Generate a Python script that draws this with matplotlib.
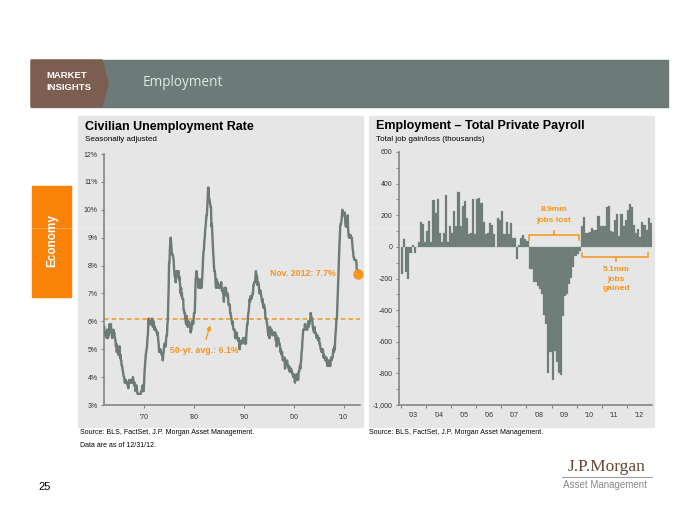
import numpy as np
import matplotlib.pyplot as plt
from matplotlib.patches import Rectangle, Polygon
from matplotlib.lines import Line2D

plt.rcParams['font.family'] = ['Liberation Sans', 'DejaVu Sans']

# civilian unemployment rate (%), monthly, Jan 1962 - Nov 2012
unrate_1960s = [5.8, 5.5, 5.6, 5.6, 5.5, 5.5, 5.4, 5.7, 5.6, 5.4, 5.7, 5.5,
                5.7, 5.9, 5.7, 5.7, 5.9, 5.6, 5.6, 5.4, 5.5, 5.5, 5.7, 5.5,
                5.6, 5.4, 5.4, 5.3, 5.1, 5.2, 4.9, 5.0, 5.1, 5.1, 4.8, 5.0,
                4.9, 5.1, 4.7, 4.8, 4.6, 4.6, 4.4, 4.4, 4.3, 4.2, 4.1, 4.0,
                4.0, 3.8, 3.8, 3.8, 3.9, 3.8, 3.8, 3.8, 3.7, 3.7, 3.6, 3.8,
                3.9, 3.8, 3.8, 3.8, 3.8, 3.9, 3.8, 3.8, 3.8, 4.0, 3.9, 3.8,
                3.7, 3.8, 3.7, 3.5, 3.5, 3.7, 3.7, 3.5, 3.4, 3.4, 3.4, 3.4,
                3.4, 3.4, 3.4, 3.4, 3.4, 3.5, 3.5, 3.5, 3.7, 3.7, 3.5, 3.5]
unrate_1970s = [3.9, 4.2, 4.4, 4.6, 4.8, 4.9, 5.0, 5.1, 5.4, 5.5, 5.9, 6.1,
                5.9, 5.9, 6.0, 5.9, 5.9, 5.9, 6.0, 6.1, 6.0, 5.8, 6.0, 6.0,
                5.8, 5.7, 5.8, 5.7, 5.7, 5.7, 5.6, 5.6, 5.5, 5.6, 5.3, 5.2,
                4.9, 5.0, 4.9, 5.0, 4.9, 4.9, 4.8, 4.8, 4.8, 4.6, 4.8, 4.9,
                5.1, 5.2, 5.1, 5.1, 5.1, 5.4, 5.5, 5.5, 5.9, 6.0, 6.6, 7.2,
                8.1, 8.1, 8.6, 8.8, 9.0, 8.8, 8.6, 8.4, 8.4, 8.4, 8.3, 8.2,
                7.9, 7.7, 7.6, 7.7, 7.4, 7.6, 7.8, 7.8, 7.6, 7.7, 7.8, 7.8,
                7.5, 7.6, 7.4, 7.2, 7.0, 7.2, 6.9, 7.0, 6.8, 6.8, 6.8, 6.4,
                6.4, 6.3, 6.3, 6.1, 6.0, 5.9, 6.2, 5.9, 6.0, 5.8, 5.9, 6.0,
                5.9, 5.9, 5.8, 5.8, 5.6, 5.7, 5.7, 6.0, 5.9, 6.0, 5.9, 6.0]
unrate_1980s = [6.3, 6.3, 6.3, 6.9, 7.5, 7.6, 7.8, 7.7, 7.5, 7.5, 7.5, 7.2,
                7.5, 7.4, 7.4, 7.2, 7.5, 7.5, 7.2, 7.4, 7.6, 7.9, 8.3, 8.5,
                8.6, 8.9, 9.0, 9.3, 9.4, 9.6, 9.8, 9.8, 10.1, 10.4, 10.8, 10.8,
                10.4, 10.4, 10.3, 10.2, 10.1, 10.1, 9.4, 9.5, 9.2, 8.8, 8.5, 8.3,
                8.0, 7.8, 7.8, 7.7, 7.4, 7.2, 7.5, 7.5, 7.3, 7.4, 7.2, 7.3,
                7.3, 7.2, 7.2, 7.3, 7.2, 7.4, 7.4, 7.1, 7.1, 7.1, 7.0, 7.0,
                6.7, 7.2, 7.2, 7.1, 7.2, 7.2, 7.0, 6.9, 7.0, 7.0, 6.9, 6.6,
                6.6, 6.6, 6.6, 6.3, 6.3, 6.2, 6.1, 6.0, 5.9, 6.0, 5.8, 5.7,
                5.7, 5.7, 5.7, 5.4, 5.6, 5.4, 5.4, 5.6, 5.4, 5.4, 5.3, 5.3,
                5.4, 5.2, 5.0, 5.2, 5.2, 5.3, 5.2, 5.2, 5.3, 5.3, 5.4, 5.4]
unrate_1990s = [5.4, 5.3, 5.2, 5.4, 5.4, 5.2, 5.5, 5.7, 5.9, 5.9, 6.2, 6.3,
                6.4, 6.6, 6.8, 6.7, 6.9, 6.9, 6.8, 6.9, 6.9, 7.0, 7.0, 7.3,
                7.3, 7.4, 7.4, 7.4, 7.6, 7.8, 7.7, 7.6, 7.6, 7.3, 7.4, 7.4,
                7.3, 7.1, 7.0, 7.1, 7.1, 7.0, 6.9, 6.8, 6.7, 6.8, 6.6, 6.5,
                6.6, 6.6, 6.5, 6.4, 6.1, 6.1, 6.1, 6.0, 5.9, 5.8, 5.6, 5.5,
                5.6, 5.4, 5.4, 5.8, 5.6, 5.6, 5.7, 5.7, 5.6, 5.5, 5.6, 5.6,
                5.6, 5.5, 5.5, 5.6, 5.6, 5.3, 5.5, 5.1, 5.2, 5.2, 5.4, 5.4,
                5.3, 5.2, 5.2, 5.1, 4.9, 5.0, 4.9, 4.8, 4.9, 4.7, 4.6, 4.7,
                4.6, 4.6, 4.7, 4.3, 4.4, 4.5, 4.5, 4.5, 4.6, 4.5, 4.4, 4.4,
                4.3, 4.4, 4.2, 4.3, 4.2, 4.3, 4.3, 4.2, 4.2, 4.1, 4.1, 4.0]
unrate_2000s = [4.0, 4.1, 4.0, 3.8, 4.0, 4.0, 4.0, 4.1, 3.9, 3.9, 3.9, 3.9,
                4.2, 4.2, 4.3, 4.4, 4.3, 4.5, 4.6, 4.9, 5.0, 5.3, 5.5, 5.7,
                5.7, 5.7, 5.7, 5.9, 5.8, 5.8, 5.8, 5.7, 5.7, 5.7, 5.9, 6.0,
                5.8, 5.9, 5.9, 6.0, 6.1, 6.3, 6.2, 6.1, 6.1, 6.0, 5.8, 5.7,
                5.7, 5.6, 5.8, 5.6, 5.6, 5.6, 5.5, 5.4, 5.4, 5.5, 5.4, 5.4,
                5.3, 5.4, 5.2, 5.2, 5.1, 5.0, 5.0, 4.9, 5.0, 5.0, 5.0, 4.9,
                4.7, 4.8, 4.7, 4.7, 4.6, 4.6, 4.7, 4.7, 4.5, 4.4, 4.5, 4.4,
                4.6, 4.5, 4.4, 4.5, 4.4, 4.6, 4.7, 4.6, 4.7, 4.7, 4.7, 5.0,
                5.0, 4.9, 5.1, 5.0, 5.4, 5.6, 5.8, 6.1, 6.1, 6.5, 6.8, 7.3,
                7.8, 8.3, 8.7, 9.0, 9.4, 9.5, 9.5, 9.6, 9.8, 10.0, 9.9, 9.9]
unrate_2010s = [9.8, 9.8, 9.9, 9.9, 9.6, 9.4, 9.4, 9.5, 9.5, 9.4, 9.8, 9.3,
                9.1, 9.0, 9.0, 9.1, 9.0, 9.1, 9.0, 9.0, 9.0, 8.8, 8.6, 8.5,
                8.3, 8.3, 8.2, 8.2, 8.2, 8.2, 8.2, 8.1, 7.8, 7.8, 7.7]
unrate_avg = 6.1

# total private payroll change (thousands), monthly 2003 - 2012
pay_2003 = [-170, 50, -160, -200, -40, 15, -40, 0, 30, 155, 145, 30]
pay_2004 = [100, 165, 30, 295, 215, 305, 90, 30, 90, 325, 30, 135]
pay_2005 = [90, 230, 135, 345, 135, 260, 290, 185, 80, 90, 300, 80]
pay_2006 = [300, 310, 280, 160, 80, 85, 150, 140, 80, 0, 185, 170]
pay_2007 = [225, 80, 160, 80, 150, 55, 55, -75, 15, 55, 75, 50]
pay_2008 = [40, -140, -140, -220, -220, -245, -265, -300, -430, -490, -800, -665]
pay_2009 = [-840, -660, -730, -800, -810, -435, -310, -300, -235, -195, -125, -55]
pay_2010 = [-45, -25, 130, 190, 85, 90, 95, 120, 105, 105, 195, 130]
pay_2011 = [130, 130, 250, 260, 100, 95, 170, 205, 70, 210, 130, 170]
pay_2012 = [235, 270, 250, 140, 90, 110, 60, 155, 140, 105, 180, 150]
pay_years = ["'03", "'04", "'05", "'06", "'07", "'08", "'09", "'10", "'11", "'12"]

ORANGE = '#f7941d'
LINE = '#6d7b77'
PANEL = '#e6e6e6'
AXC = '#858585'

unrate = np.array(unrate_1960s + unrate_1970s + unrate_1980s + unrate_1990s
                  + unrate_2000s + unrate_2010s)
months = 1962 + np.arange(len(unrate)) / 12.0
payroll = np.array(pay_2003 + pay_2004 + pay_2005 + pay_2006 + pay_2007
                   + pay_2008 + pay_2009 + pay_2010 + pay_2011 + pay_2012)

W, H = 700, 525


def px(x, y):
    return x / W, 1 - y / H


def box(x0, y0, x1, y1, **kw):
    return Rectangle(px(x0, y1), (x1 - x0) / W, (y1 - y0) / H,
                     transform=fig.transFigure, **kw)


fig = plt.figure(figsize=(7, 5.25), dpi=100)
fig.patch.set_facecolor('white')

# header band
fig.patches.append(box(31, 60, 668, 107, color='#6c7a78', zorder=-3))
fig.patches.append(Polygon([px(31, 60), px(102, 60), px(108, 83.5), px(102, 107), px(31, 107)],
                           closed=True, transform=fig.transFigure, color='#7b5e50', zorder=-2))
fig.text(*px(46, 76), 'MARKET', color='white', fontsize=6.8, fontweight='bold', va='center')
fig.text(*px(46, 88), 'INSIGHTS', color='white', fontsize=6.8, fontweight='bold', va='center')
fig.text(*px(143, 82), 'Employment', color='#e4e7e6', fontsize=9.8, va='center',
         family=['Open Sans', 'DejaVu Sans'])

# side tab
fig.patches.append(box(32, 186, 71, 297, color='#fb8307', zorder=-3))
fig.text(*px(52, 241), 'Economy', color='white', fontsize=8.5, fontweight='bold',
         rotation=90, ha='center', va='center')

# panels
fig.patches.append(box(78, 116, 363, 427, color=PANEL, zorder=-3))
fig.patches.append(box(369, 116, 654, 427, color=PANEL, zorder=-3))
fig.add_artist(Line2D([31 / W, 668 / W], [1 - 228 / H] * 2, color='white', alpha=0.35, lw=0.6,
                      zorder=-1))

fig.text(*px(85, 127), 'Civilian Unemployment Rate', fontsize=9, fontweight='bold', va='center')
fig.text(*px(85, 139.5), 'Seasonally adjusted', fontsize=5.8, va='center')
fig.text(*px(376, 126), 'Employment \u2013 Total Private Payroll', fontsize=9, fontweight='bold', va='center')
fig.text(*px(376, 139.5), 'Total job gain/loss (thousands)', fontsize=5.8, va='center')

fig.text(*px(80, 433), 'Source: BLS, FactSet, J.P. Morgan Asset Management.', fontsize=5, va='center')
fig.text(*px(80, 445.5), 'Data are as of 12/31/12.', fontsize=5, va='center')
fig.text(*px(369, 433), 'Source: BLS, FactSet, J.P. Morgan Asset Management.', fontsize=5, va='center')

fig.text(*px(38, 487), '25', fontsize=8, va='center')
fig.text(*px(607, 467), 'J.P.Morgan', fontsize=12.5, color='#6b4433', ha='center', va='center',
         family=['Liberation Serif', 'DejaVu Serif'])
fig.add_artist(Line2D([562 / W, 652 / W], [1 - 476.5 / H] * 2, color='#a0a0a0', lw=0.8))
fig.text(*px(605, 484.5), 'Asset Management', fontsize=7, color='#8a8a8a', ha='center', va='center')


def style(ax):
    ax.set_facecolor('none')
    for s in ['top', 'right']:
        ax.spines[s].set_visible(False)
    for s in ['left', 'bottom']:
        ax.spines[s].set_color(AXC)
        ax.spines[s].set_linewidth(1.2)
    ax.tick_params(which='both', colors=AXC, labelcolor='#333333', labelsize=5,
                   length=2.5, width=0.8, pad=2)


# left chart: unemployment rate
ax1 = fig.add_axes([104 / W, 1 - 405 / H, 256 / W, 251 / H])
style(ax1)
ax1.plot(months, unrate, color=LINE, lw=1.7, zorder=3)
ax1.axhline(unrate_avg, color=ORANGE, lw=1.1, ls=(0, (3, 2)), zorder=2)
ax1.plot(months[-1], unrate[-1], 'o', color=ORANGE, ms=6.5, zorder=4, clip_on=False)
ax1.set_xlim(1961.95, 2013.3)
ax1.set_ylim(3, 12)
ax1.set_yticks(np.arange(3, 13))
ax1.set_yticklabels(['%d%%' % v for v in range(3, 13)])
ax1.set_xticks([1970, 1980, 1990, 2000, 2010])
ax1.set_xticklabels(["'70", "'80", "'90", "'00", "'10"])
ax1.tick_params(axis='x', pad=4)
ax1.text(2008.4, unrate[-1], 'Nov. 2012: 7.7%', color=ORANGE, fontsize=6.3,
         fontweight='bold', ha='right', va='center')
ax1.text(1982.0, 4.95, '50-yr. avg.: 6.1%', color=ORANGE, fontsize=6.3,
         fontweight='bold', ha='center', va='center')
ax1.annotate('', xy=(1983.4, 5.95), xytext=(1982.25, 5.25),
             arrowprops=dict(arrowstyle='-|>', color=ORANGE, lw=0.9, mutation_scale=6))

# right chart: private payroll
ax2 = fig.add_axes([399 / W, 1 - 405 / H, 253 / W, 253 / H])
style(ax2)
x = np.arange(len(payroll))
ax2.bar(x, payroll, width=1.0, color=LINE, edgecolor='#7f8b88', linewidth=0.2, zorder=3)
ax2.set_xlim(-1.5, 119.6)
ax2.set_ylim(-1000, 600)
ax2.set_yticks(np.arange(-1000, 601, 200))
ax2.set_yticklabels(['{:,}'.format(v) for v in range(-1000, 601, 200)])
ax2.set_yticks(np.arange(-900, 600, 200), minor=True)
ax2.set_xticks(np.arange(10) * 12 - 0.5)
ax2.set_xticklabels([])
ax2.set_xticks(np.arange(10) * 12 + 5.5, minor=True)
ax2.set_xticklabels(pay_years, minor=True)
ax2.tick_params(axis='x', which='minor', length=0, pad=5)
ax2.tick_params(axis='y', which='minor', length=2, width=0.6)

# brackets
ax2.plot([60.7, 60.7, 84.7, 84.7], [44, 76, 76, 44], color=ORANGE, lw=1.1, clip_on=False, zorder=4)
ax2.plot([72.7, 72.7], [76, 101], color=ORANGE, lw=1.1, zorder=4)
ax2.text(72.7, 234, '8.9mm', color=ORANGE, fontsize=6, fontweight='bold', ha='center', va='center')
ax2.text(72.7, 165, 'jobs lost', color=ORANGE, fontsize=6, fontweight='bold', ha='center', va='center')
ax2.plot([86.1, 86.1, 117.7, 117.7], [-36, -63, -63, -36], color=ORANGE, lw=1.1, zorder=4)
ax2.plot([102.4, 102.4], [-63, -89], color=ORANGE, lw=1.1, zorder=4)
for yy, t in [(-141, '5.1mm'), (-204, 'jobs'), (-264, 'gained')]:
    ax2.text(102.4, yy, t, color=ORANGE, fontsize=6, fontweight='bold', ha='center', va='center')

fig.savefig('out.png', dpi=100)
